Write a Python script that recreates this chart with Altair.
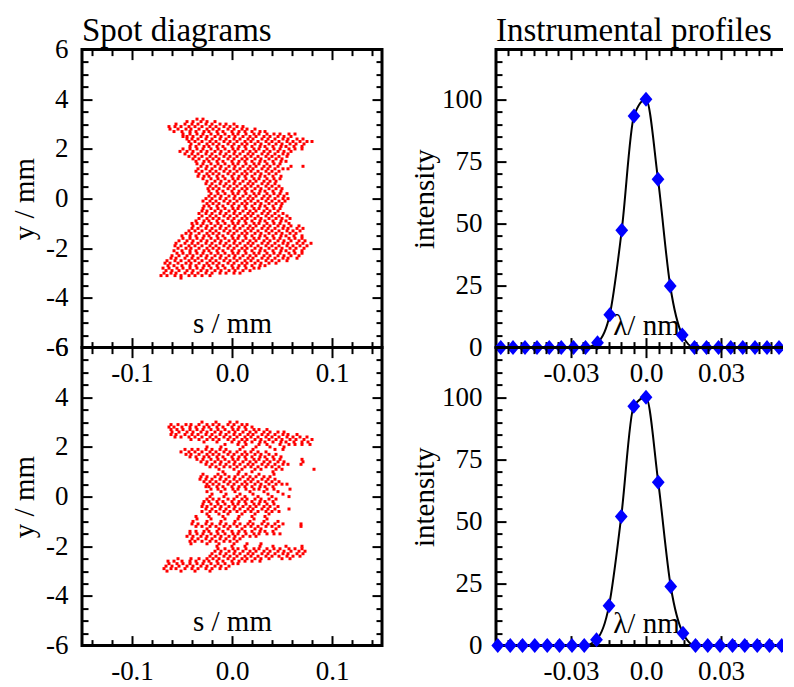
import altair as alt
import pandas as pd

FONT = "Liberation Serif"
RED = "#ff0000"
BLUE = "#0000ff"
W = 300
H = 298

# ---------------- spot diagram, upper panel: rows of y (mm) and s positions (micrometres) -------------
spot_top_y = [3.2, 3.1, 3.0, 2.9, 2.8, 2.7, 2.6, 2.5, 2.4, 2.3, 2.2, 2.1, 2.0, 1.9, 1.8, 1.7, 1.6,
              1.5, 1.4, 1.3, 1.2, 1.1, 1.0, 0.9, 0.8, 0.7, 0.6, 0.5, 0.4, 0.3, 0.2, 0.1, 0.0,
              -0.1, -0.2, -0.3, -0.4, -0.5, -0.6, -0.7, -0.8, -0.9, -1.0, -1.1, -1.2, -1.3, -1.4,
              -1.5, -1.6, -1.7, -1.8, -1.9, -2.0, -2.1, -2.2, -2.3, -2.4, -2.5, -2.6, -2.7, -2.8,
              -2.9, -3.0, -3.1, -3.2]
spot_top_s_um = [
    [-35, -29],
    [-45, -39, -31, -25, -17],
    [-56, -47, -40, -34, -26, -20, -12, -6, 2],
    [-63, -57, -51, -43, -37, -30, -22, -16, -8, -2, 5, 11],
    [-62, -54, -46, -41, -33, -25, -19, -13, -4, 2, 10, 15, 23],
    [-58, -50, -42, -36, -28, -23, -15, -9, 0, 7, 13, 20, 28, 33],
    [-49, -42, -35, -29, -21, -14, -7, 1, 6, 14, 22, 27, 35, 42, 48, 57, 63],
    [-49, -45, -39, -31, -25, -17, -11, -3, 3, 11, 18, 24, 32, 38, 46, 52, 59],
    [-45, -40, -34, -26, -20, -12, -6, 2, 8, 16, 21, 30, 36, 43, 51, 56, 65, 71],
    [-43, -37, -30, -22, -16, -8, -2, 5, 13, 19, 26, 34, 40, 47, 55, 61, 68, 75, 80],
    [-41, -33, -25, -19, -13, -4, 2, 10, 15, 23, 29, 37, 44, 50, 58, 64, 72],
    [-42, -36, -28, -23, -15, -9, 0, 7, 13, 20, 28, 33, 41, 49, 54, 62, 70],
    [-49, -42, -35, -29, -21, -14, -7, 1, 6, 14, 22, 27, 35, 42, 48, 57, 63, 70],
    [-52, -45, -39, -31, -25, -17, -11, -3, 3, 11, 18, 24, 32, 38, 46, 52, 59],
    [-47, -40, -34, -26, -20, -12, -6, 2, 8, 16, 21, 30, 36, 43, 51, 56],
    [-43, -37, -30, -22, -16, -8, -2, 5, 13, 19, 26, 34, 40, 47, 55],
    [-39, -33, -25, -19, -13, -4, 2, 10, 15, 23, 29, 37, 44, 50],
    [-36, -28, -23, -15, -9, 0, 7, 13, 20, 28, 33, 41, 49, 54],
    [-35, -29, -21, -14, -7, 1, 6, 14, 22, 27, 35, 42, 48],
    [-31, -25, -17, -11, -3, 3, 11, 18, 24, 32, 38, 46, 59, 71],
    [-34, -26, -20, -12, -6, 2, 8, 16, 21, 30, 36, 43, 51, 56],
    [-36, -30, -22, -16, -8, -2, 5, 13, 19, 26, 34, 40, 47],
    [-33, -25, -19, -13, -4, 2, 10, 15, 23, 29, 37, 44],
    [-34, -28, -23, -15, -9, 0, 7, 13, 20, 28, 33, 41, 49],
    [-29, -21, -14, -7, 1, 6, 14, 22, 27, 35, 42, 48],
    [-25, -17, -11, -3, 3, 11, 18, 24, 32, 38, 44],
    [-26, -20, -12, -6, 2, 8, 16, 21, 30, 36, 43],
    [-22, -16, -8, -2, 5, 13, 19, 26, 34, 40, 47],
    [-24, -19, -13, -4, 2, 10, 15, 23, 29, 37, 44, 50],
    [-23, -15, -9, 0, 7, 13, 20, 28, 33, 41, 49],
    [-21, -14, -7, 1, 6, 14, 22, 27, 35, 42, 48, 55],
    [-23, -17, -11, -3, 3, 11, 18, 24, 32, 38, 46, 52],
    [-26, -20, -12, -6, 2, 8, 16, 21, 30, 36, 43, 51, 56],
    [-29, -22, -16, -8, -2, 5, 13, 19, 26, 34, 40, 47, 53],
    [-25, -19, -13, -4, 2, 10, 15, 23, 29, 37, 44, 50],
    [-28, -23, -15, -9, 0, 7, 13, 20, 28, 33, 41, 49],
    [-29, -21, -14, -7, 1, 6, 14, 22, 27, 35, 42, 48],
    [-30, -25, -17, -11, -3, 3, 11, 18, 24, 32, 38, 46],
    [-33, -26, -20, -12, -6, 2, 8, 16, 21, 30, 36, 43, 51],
    [-30, -22, -16, -8, -2, 5, 13, 19, 26, 34, 40, 47, 55],
    [-33, -25, -19, -13, -4, 2, 10, 15, 23, 29, 37, 44, 50, 58],
    [-36, -28, -23, -15, -9, 0, 7, 13, 20, 28, 33, 41, 49, 54],
    [-40, -35, -29, -21, -14, -7, 1, 6, 14, 22, 27, 35, 42, 48, 57],
    [-39, -31, -25, -17, -11, -3, 3, 11, 18, 24, 32, 38, 46, 52, 59, 67],
    [-40, -34, -26, -20, -12, -6, 2, 8, 16, 21, 30, 36, 43, 51, 56, 65, 71],
    [-43, -37, -30, -22, -16, -8, -2, 5, 13, 19, 26, 34, 40, 47, 55, 61, 68],
    [-46, -41, -33, -25, -19, -13, -4, 2, 10, 15, 23, 29, 37, 44, 50, 58, 64],
    [-50, -42, -36, -28, -23, -15, -9, 0, 7, 13, 20, 28, 33, 41, 49, 54, 62, 70],
    [-49, -42, -35, -29, -21, -14, -7, 1, 6, 14, 22, 27, 35, 42, 48, 57, 63, 70],
    [-53, -45, -39, -31, -25, -17, -11, -3, 3, 11, 18, 24, 32, 38, 46, 52, 59, 67, 73],
    [-56, -47, -40, -34, -26, -20, -12, -6, 2, 8, 16, 21, 30, 36, 43, 51, 56, 65, 71, 79],
    [-57, -51, -43, -37, -30, -22, -16, -8, -2, 5, 13, 19, 26, 34, 40, 47, 55, 61, 68, 75],
    [-54, -46, -41, -33, -25, -19, -13, -4, 2, 10, 15, 23, 29, 37, 44, 50, 58, 64, 72],
    [-58, -50, -42, -36, -28, -23, -15, -9, 0, 7, 13, 20, 28, 33, 41, 49, 54, 62, 70],
    [-55, -49, -42, -35, -29, -21, -14, -7, 1, 6, 14, 22, 27, 35, 42, 48, 57, 63, 70],
    [-60, -53, -45, -39, -31, -25, -17, -11, -3, 3, 11, 18, 24, 32, 38, 46, 52, 59, 67],
    [-61, -56, -47, -40, -34, -26, -20, -12, -6, 2, 8, 16, 21, 30, 36, 43, 51, 56, 65],
    [-65, -57, -51, -43, -37, -30, -22, -16, -8, -2, 5, 13, 19, 26, 34, 40, 47, 55],
    [-67, -62, -54, -46, -41, -33, -25, -19, -13, -4, 2, 10, 15, 23, 29, 37, 44],
    [-64, -58, -50, -42, -36, -28, -23, -15, -9, 0, 7, 13, 20, 28, 33],
    [-69, -63, -55, -49, -42, -35, -29, -21, -14, -7, 1, 6, 14, 22, 27],
    [-66, -60, -53, -45, -39, -31, -25, -17, -11, -3, 3, 11, 18],
    [-68, -61, -56, -47, -40, -34, -26, -20, -12, -6, 2, 8],
    [-71, -65, -57, -51, -43, -37, -30, -22],
    [-51],
]

# ---------------- spot diagram, lower panel -------------
spot_bot_y = [3.0, 2.9, 2.8, 2.7, 2.6, 2.5, 2.4, 2.3, 2.2, 2.1, 2.0, 1.9, 1.8, 1.7, 1.6, 1.5,
              1.4, 1.3, 1.2, 1.1, 1.0, 0.9, 0.8, 0.7, 0.6, 0.5, 0.4, 0.3, 0.2, 0.1, 0.0,
              -0.1, -0.2, -0.3, -0.4, -0.5, -0.6, -0.7, -0.8, -0.9, -1.0, -1.1, -1.2, -1.3,
              -1.4, -1.5, -1.6, -1.7, -1.8, -1.9, -2.0, -2.1, -2.2, -2.3, -2.4, -2.5, -2.6,
              -2.7, -2.8, -2.9, -3.0]
spot_bot_s_um = [
    [-30, -16, -2, 5],
    [-61, -54, -46, -41, -33, -25, -19, -13, -4, 2, 10, 15],
    [-63, -58, -50, -42, -36, -28, -23, -15, -9, 0, 7, 13, 20],
    [-61, -55, -49, -42, -35, -29, -21, -14, -7, 1, 6, 14, 22, 27, 35],
    [-60, -53, -45, -39, -31, -25, -17, -11, -3, 3, 11, 18, 24, 32, 38, 46, 52],
    [-61, -56, -47, -40, -34, -26, -20, -12, -6, 2, 8, 16, 21, 30, 36, 43, 51, 56, 65],
    [-57, -51, -43, -37, -30, -22, -16, -8, -2, 5, 13, 19, 26, 34, 40, 47, 55, 61, 68, 75],
    [-41, -33, -25, -19, -13, -4, 2, 10, 15, 23, 29, 37, 44, 50, 58, 64, 72, 80],
    [-28, -15, 0, 7, 13, 20, 28, 33, 41, 49, 54, 62, 70, 76],
    [-7, 6, 14, 27, 35, 48, 57, 63, 70, 78],
    [-25, -11, 11, 24, 38, 52],
    [-47, -40, -34, -26, -20, -12, -6, 8, 21, 43, 51],
    [-51, -43, -37, -30, -22, -16, -8, -2, 5, 13, 19, 26, 34],
    [-46, -41, -33, -25, -19, -13, -4, 2, 10, 15, 23, 29, 37, 44],
    [-42, -36, -28, -23, -15, -9, 0, 7, 13, 20, 28, 33, 41, 49],
    [-35, -29, -21, -14, -7, 1, 6, 14, 22, 27, 35, 42, 48, 70],
    [-31, -25, -17, -11, -3, 3, 11, 18, 24, 32, 38, 46, 52, 71],
    [-26, -20, -12, -6, 2, 8, 16, 21, 30, 36, 43, 51, 56, 69],
    [-22, -16, -8, -2, 5, 13, 19, 26, 34, 40, 47],
    [-13, 2, 10, 23, 29, 44, 50, 82],
    [-9, 7, 20, 41],
    [-29, -14, -7, 6, 14, 27, 42],
    [-31, -25, -17, -11, -3, 3, 11, 18, 24, 32, 38],
    [-32, -26, -20, -12, -6, 2, 8, 16, 21, 30, 36, 43],
    [-28, -22, -16, -8, -2, 5, 13, 19, 26, 34, 40, 47],
    [-25, -19, -13, -4, 2, 10, 15, 23, 29, 37, 44, 50, 55],
    [-26, -23, -15, -9, 0, 7, 13, 20, 28, 33, 41],
    [-21, -14, -7, 1, 6, 14, 22, 27, 35, 42, 58],
    [-25, -11, 3, 18, 32, 46],
    [-20, -6, 8, 21, 36, 51],
    [-22, -8, 5, 13, 26, 40, 57],
    [-25, -19, -13, -4, 2, 10, 15, 23, 29, 37, 44],
    [-28, -23, -15, -9, 0, 7, 13, 20, 28, 33, 41],
    [-29, -21, -14, -7, 1, 6, 14, 22, 27, 35, 42],
    [-30, -25, -17, -11, -3, 3, 11, 18, 24, 32, 38, 46],
    [-26, -20, -12, -6, 2, 8, 16, 21, 30, 36, 43, 57],
    [-30, -22, -16, -8, -2, 5, 13, 19, 26, 34, 40, 47],
    [-25, -13, -4, 10, 23, 37],
    [-36, -23, -9, 7, 20, 33],
    [-35, -21, -7, 6, 22, 35],
    [-39, -25, -11, 3, 18, 32, 46],
    [-40, -34, -26, -20, -12, -6, 2, 8, 16, 21, 30, 36, 43, 51, 69],
    [-36, -30, -22, -16, -8, -2, 5, 13, 19, 26, 34, 40, 47, 69],
    [-25, -13, -4, 10, 23, 29, 44],
    [-42, -36, -28, -23, -15, -9, 0, 7, 13, 20, 28, 33, 41],
    [-42, -35, -29, -21, -14, -7, 1, 6, 14, 22, 27, 35, 42, 48],
    [-45, -39, -31, -25, -17, -11, -3, 3, 11, 18, 24],
    [-40, -34, -26, -20, -12, -6, 2, 8],
    [-42, -37, -30, -22, -16, -8, -2, 5],
    [-41, -25, -13, 2, 15, 29],
    [-15, 0, 13, 28, 41, 54, 70],
    [-14, -7, 1, 6, 14, 22, 27, 35, 42, 48, 57, 63, 70],
    [-17, -11, -3, 3, 11, 18, 24, 32, 38, 46, 52, 59, 67, 73],
    [-20, -12, -6, 2, 8, 16, 21, 30, 36, 43, 51, 56, 65, 71],
    [-22, -16, -8, -2, 5, 13, 19, 26, 34, 40, 47, 55, 61, 68],
    [-54, -41, -33, -25, -19, -13, -4, 2, 10, 15, 23, 29, 37, 50, 58],
    [-64, -58, -50, -42, -36, -28, -23, -15, -9, 0, 7, 13, 20, 28],
    [-63, -55, -49, -42, -35, -29, -21, -14, -7, 1, 6],
    [-66, -60, -53, -45, -39, -31, -25, -17, -11, -3],
    [-68, -61, -56, -47, -40, -34, -26, -20, -12, -6],
    [-65, -51, -37, -22],
]

# ---------------- instrumental profiles -------------
prof_top_lambda = [-0.0581, -0.0532, -0.0484, -0.0436, -0.0387, -0.0339, -0.0290, -0.0242, -0.0194,
                   -0.0145, -0.0097, -0.0048, 0.0, 0.0048, 0.0097, 0.0145, 0.0194, 0.0242, 0.0290,
                   0.0339, 0.0387, 0.0436, 0.0484, 0.0532, 0.0581]
prof_top_int = [0, 0, 0, 0, 0, 0, 0, 0, 2.0, 13.2, 47.3, 93.3, 100.0, 67.8, 24.8, 5.1,
                0, 0, 0, 0, 0, 0, 0, 0, 0]
prof_bot_lambda = [-0.0593, -0.0543, -0.0494, -0.0445, -0.0395, -0.0346, -0.0296, -0.0247, -0.0198,
                   -0.0148, -0.0099, -0.0049, 0.0, 0.0049, 0.0099, 0.0148, 0.0198, 0.0247, 0.0296,
                   0.0346, 0.0395, 0.0445, 0.0494, 0.0543, 0.0593]
prof_bot_int = [0, 0, 0, 0, 0, 0, 0, 0, 2.4, 16.0, 52.0, 96.4, 100.0, 65.8, 23.8, 5.0,
                0, 0, 0, 0, 0, 0, 0, 0, 0]

# ---------------- axes: tick values and labels -------------
spot_s_domain = [-0.15, 0.15]
spot_y_domain = [-6, 6]
spot_s_major = [-0.1, 0.0, 0.1]
spot_s_labels = ["-0.1", "0.0", "0.1"]
spot_s_ticks = [-0.14, -0.12, -0.1, -0.08, -0.06, -0.04, -0.02, 0.0, 0.02, 0.04, 0.06, 0.08,
                0.1, 0.12, 0.14]
spot_y_major = [-6, -4, -2, 0, 2, 4, 6]
spot_y_labels = ["-6", "-4", "-2", "0", "2", "4", "6"]
spot_y_ticks = [-5.5, -5, -4.5, -4, -3.5, -3, -2.5, -2, -1.5, -1, -0.5, 0, 0.5, 1, 1.5, 2, 2.5,
                3, 3.5, 4, 4.5, 5, 5.5]

prof_x_domain = [-0.06, 0.06]
prof_y_domain = [0, 120]
prof_x_major = [-0.03, 0.0, 0.03]
prof_x_labels = ["-0.03", "0.0", "0.03"]
prof_x_ticks = [-0.055, -0.05, -0.045, -0.04, -0.035, -0.03, -0.025, -0.02, -0.015, -0.01,
                -0.005, 0.0, 0.005, 0.01, 0.015, 0.02, 0.025, 0.03, 0.035, 0.04, 0.045, 0.05,
                0.055]
prof_y_major = [0, 25, 50, 75, 100]
prof_y_labels = ["0", "25", "50", "75", "100"]
prof_y_ticks = [5, 10, 15, 20, 25, 30, 35, 40, 45, 50, 55, 60, 65, 70, 75, 80, 85, 90, 95, 100,
                105, 110, 115]


def spot_frame(ys, s_lists):
    rows = []
    for y, sl in zip(ys, s_lists):
        for s in sl:
            rows.append({"s": s / 1000.0, "y": y})
    return pd.DataFrame(rows)


def label_expr(values, labels):
    expr = "''"
    for v, lab in zip(reversed(values), reversed(labels)):
        expr = f"abs(datum.value - ({v})) < 1e-9 ? '{lab}' : ({expr})"
    return expr


def tick_size(major):
    test = " || ".join(f"abs(datum.value - ({v})) < 1e-9" for v in major)
    return {"condition": {"test": test, "value": 10}, "value": 6}


LABEL_STYLE = dict(ticks=False, domain=False, grid=False, labelFont=FONT, labelFontSize=27,
                   labelColor="black", labelFlush=False, labelOverlap=False,
                   titleFont=FONT, titleFontSize=29, titleFontWeight="normal", titleColor="black",
                   titleAlign="center", titleBaseline="alphabetic")
TICK_STYLE = dict(labels=False, domain=False, grid=False, title=None, ticks=True,
                  tickColor="black", tickWidth=2)


def tick_layers(df, xf, yf, xscale, yscale, xticks, xmajor, yticks, ymajor, h):
    base = df.iloc[:1]
    l1 = alt.Chart(base).mark_point(opacity=0).encode(
        x=alt.X(xf, type="quantitative", scale=xscale,
                axis=alt.Axis(orient="top", offset=-h, values=xticks, tickSize=tick_size(xmajor), **TICK_STYLE)),
        y=alt.Y(yf, type="quantitative", scale=yscale,
                axis=alt.Axis(orient="right", offset=-W, values=yticks, tickSize=tick_size(ymajor), **TICK_STYLE)),
    )
    l2 = alt.Chart(base).mark_point(opacity=0).encode(
        x=alt.X(xf, type="quantitative", scale=xscale,
                axis=alt.Axis(orient="bottom", offset=-h, values=xticks, tickSize=tick_size(xmajor), **TICK_STYLE)),
        y=alt.Y(yf, type="quantitative", scale=yscale,
                axis=alt.Axis(orient="left", offset=-W, values=yticks, tickSize=tick_size(ymajor), **TICK_STYLE)),
    )
    return [l1, l2]


def spot_panel(ys, s_lists, h, title=None):
    df = spot_frame(ys, s_lists)
    xs = alt.Scale(domain=spot_s_domain, nice=False, zero=False)
    ysc = alt.Scale(domain=spot_y_domain, nice=False, zero=False)
    pts = alt.Chart(df).mark_square(size=9, color=RED, opacity=1, strokeWidth=0).encode(
        x=alt.X("s:Q", scale=xs,
                axis=alt.Axis(orient="bottom", values=spot_s_major,
                              labelExpr=label_expr(spot_s_major, spot_s_labels), labelPadding=13,
                              title="s / mm", titleX=W / 2, titleY=-15, **LABEL_STYLE)),
        y=alt.Y("y:Q", scale=ysc,
                axis=alt.Axis(orient="left", values=spot_y_major,
                              labelExpr=label_expr(spot_y_major, spot_y_labels), labelPadding=14,
                              title="y / mm", titleX=-49, titleY=h / 2, titleAngle=270, **LABEL_STYLE)),
    )
    layers = [pts] + tick_layers(df, "s", "y", xs, ysc, spot_s_ticks, spot_s_major,
                                 spot_y_ticks, spot_y_major, h)
    ch = alt.layer(*layers).resolve_axis(x="independent", y="independent")
    props = dict(width=W, height=h)
    if title:
        props["title"] = alt.TitleParams(title, anchor="start", frame="group", font=FONT, fontSize=33,
                                         fontWeight="normal", color="black", baseline="alphabetic",
                                         offset=-38)
    return ch.properties(**props)


def prof_panel(lams, ints, h, title=None):
    df = pd.DataFrame({"lam": lams, "inten": ints})
    xs = alt.Scale(domain=prof_x_domain, nice=False, zero=False)
    ysc = alt.Scale(domain=prof_y_domain, nice=False, zero=False)
    line = alt.Chart(df).mark_line(color="black", strokeWidth=2, interpolate="monotone").encode(
        x=alt.X("lam:Q", scale=xs,
                axis=alt.Axis(orient="bottom", values=prof_x_major,
                              labelExpr=label_expr(prof_x_major, prof_x_labels), labelPadding=13,
                              title="λ/ nm", titleX=W / 2, titleY=-13, **LABEL_STYLE)),
        y=alt.Y("inten:Q", scale=ysc,
                axis=alt.Axis(orient="left", values=prof_y_major,
                              labelExpr=label_expr(prof_y_major, prof_y_labels), labelPadding=14,
                              title="intensity", titleX=-62, titleY=h / 2, titleAngle=270, **LABEL_STYLE)),
    )
    dia = alt.Chart(df).mark_point(shape="M-0.85,0L0,-1L0.85,0L0,1Z", size=225, filled=True,
                                   color=BLUE, opacity=1, strokeWidth=0).encode(
        x=alt.X("lam:Q", scale=xs, axis=None),
        y=alt.Y("inten:Q", scale=ysc, axis=None),
    )
    layers = [line, dia] + tick_layers(df, "lam", "inten", xs, ysc, prof_x_ticks, prof_x_major,
                                       prof_y_ticks, prof_y_major, h)
    ch = alt.layer(*layers).resolve_axis(x="independent", y="independent")
    props = dict(width=W, height=h)
    if title:
        props["title"] = alt.TitleParams(title, anchor="start", frame="group", font=FONT, fontSize=33,
                                         fontWeight="normal", color="black", baseline="alphabetic",
                                         offset=-25)
    return ch.properties(**props)


top_left = spot_panel(spot_top_y, spot_top_s_um, H, "Spot diagrams")
top_right = prof_panel(prof_top_lambda, prof_top_int, H, "Instrumental profiles")
bot_left = spot_panel(spot_bot_y, spot_bot_s_um, H)
bot_right = prof_panel(prof_bot_lambda, prof_bot_int, H)

chart = alt.concat(
    top_left, top_right, bot_left, bot_right,
    columns=2, spacing={"row": 0, "column": 114}, bounds="flush",
).properties(
    padding={"left": 0, "top": 4.6, "right": -20, "bottom": 2},
    background="white",
).configure_view(stroke="black", strokeWidth=3)

chart.save("out.html", embed_options={"renderer": "svg", "actions": False})
